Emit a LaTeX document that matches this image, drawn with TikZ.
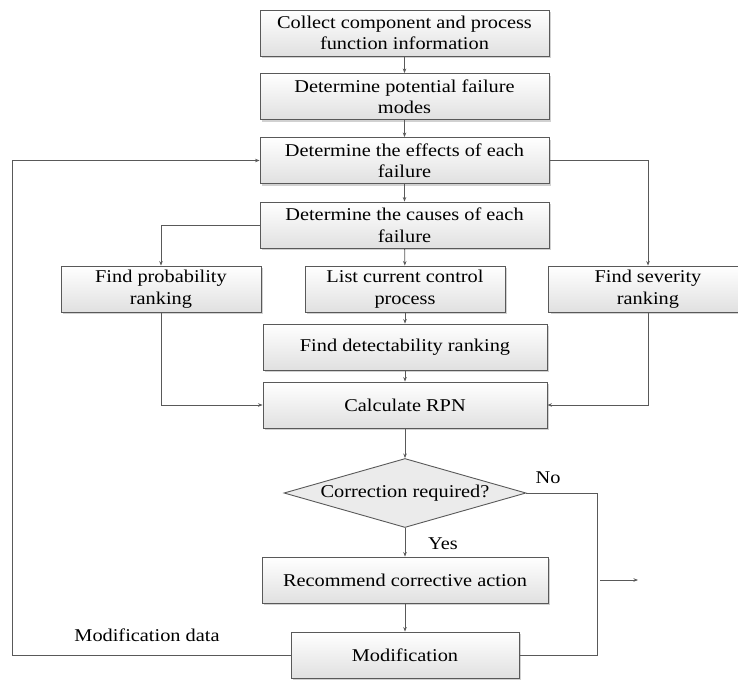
\documentclass[tikz,border=0pt]{standalone}
\usepackage{fontspec}
\setmainfont{Liberation Serif}[FakeStretch=1.13]
\usetikzlibrary{arrows.meta,shapes.geometric,shadows}
\definecolor{ln}{HTML}{595959}
\begin{document}
\begin{tikzpicture}[x=1pt,y=-1pt,
  font=\fontsize{18}{21.5}\selectfont,
  stepbox/.style={draw=ln,line width=0.9pt,top color=white,bottom color=black!12,
    drop shadow={shadow xshift=2pt,shadow yshift=-2pt,fill=black!30,opacity=0.6},
    align=center,inner sep=0pt,minimum height=46pt},
  decide/.style={diamond,draw=ln,line width=0.9pt,fill=black!8,aspect=3.5,inner sep=0pt,
    minimum width=242pt,minimum height=69pt},
  conn/.style={draw=ln,line width=0.9pt},
  arr/.style={conn,-{Stealth[length=4.5pt,width=3.5pt]}},
  lbl/.style={inner sep=0pt}]
\clip (0,0) rectangle (738,680);
\node[stepbox,minimum width=289pt] (b1) at (404.5,33) {Collect component and process\\function information};
\node[stepbox,minimum width=289pt] (b2) at (404.5,96.5) {Determine potential failure\\modes};
\node[stepbox,minimum width=289pt] (b3) at (404.5,160.5) {Determine the effects of each\\failure};
\node[stepbox,minimum width=289pt] (b4) at (404.5,225) {Determine the causes of each\\failure};
\node[stepbox,minimum width=200pt] (prob) at (161,289) {Find probability\\ranking};
\node[stepbox,minimum width=200pt] (list) at (405,289) {List current control\\process};
\node[stepbox,minimum width=199pt] (sev) at (648,289) {Find severity\\ranking};
\node[stepbox,minimum width=284pt] (det) at (405,347) {Find detectability ranking};
\node[stepbox,minimum width=284pt] (rpn) at (405,405) {Calculate RPN};
\node[decide] (dia) at (405,493) {Correction required?};
\node[stepbox,minimum width=286pt] (rec) at (405,580) {Recommend corrective action};
\node[stepbox,minimum width=228pt] (mod) at (405,655) {Modification};

\coordinate (pc) at (161,225);
\coordinate (pr) at (161,405);
\coordinate (sc) at (648,160.5);
\coordinate (sr) at (648,405);
\coordinate (n1) at (597,493);
\coordinate (n2) at (597,655);
\coordinate (f1) at (12,655);
\coordinate (f2) at (12,160.5);
\coordinate (s1) at (600,580);
\coordinate (s2) at (638,580);

\draw[arr] (b1) -- (b2);
\draw[arr] (b2) -- (b3);
\draw[arr] (b3) -- (b4);
\draw[arr] (b4) -- (list);
\draw[arr] (list) -- (det);
\draw[arr] (det) -- (rpn);
\draw[arr] (rpn) -- (dia);
\draw[arr] (dia) -- (rec);
\draw[arr] (rec) -- (mod);
\draw[arr] (b4.west) -- (pc) -- (prob.north);
\draw[arr] (prob.south) -- (pr) -- (rpn.west);
\draw[arr] (b3.east) -- (sc) -- (sev.north);
\draw[arr] (sev.south) -- (sr) -- (rpn.east);
\draw[conn] (dia.east) -- (n1) -- (n2) -- (mod.east);
\draw[arr] (s1) -- (s2);
\draw[arr] (mod.west) -- (f1) -- (f2) -- (b3.west);

\node[lbl] (no) at (548,478) {No};
\node[lbl] (yes) at (443,544) {Yes};
\node[lbl] (mdata) at (147,635) {Modification data};
\end{tikzpicture}
\end{document}
